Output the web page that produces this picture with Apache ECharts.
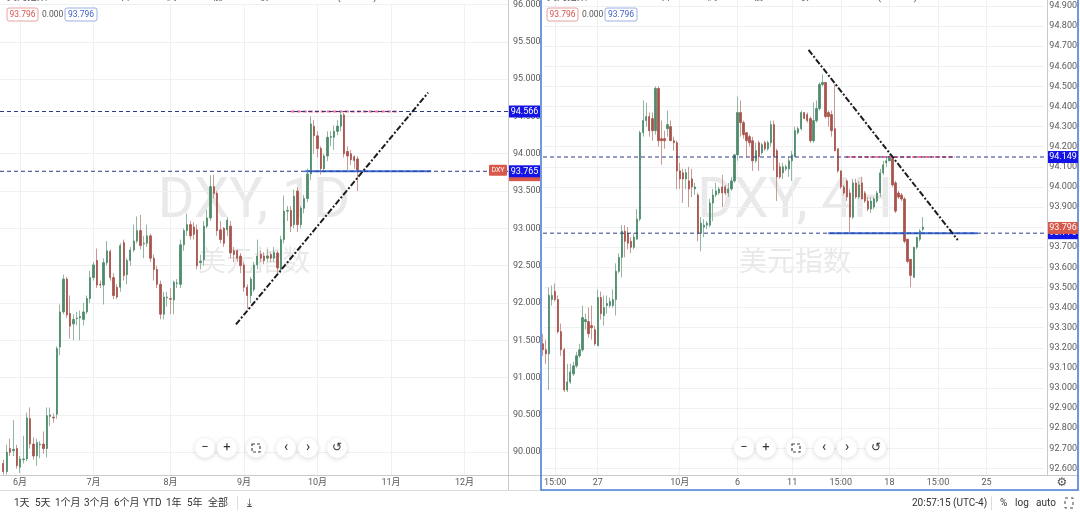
<!DOCTYPE html>
<html><head><meta charset="utf-8">
<script src="https://cdn.jsdelivr.net/npm/echarts/dist/echarts.min.js"></script>
<style>html,body{margin:0;padding:0;background:#fff}#c{width:1080px;height:516px}</style>
</head><body><div id="c"></div>
<script>
// ---------- LEFT PANEL (DXY, 1D) ----------
const leftOpen = [89.85,89.74,90.05,90.02,90.05,89.80,89.90,89.91,90.45,90.11,
89.95,90.10,90.11,90.05,90.48,90.47,90.51,91.41,91.88,92.32,
91.86,91.72,91.79,91.80,91.78,91.88,92.06,92.34,92.57,92.25,
92.24,92.54,92.69,92.34,92.21,92.21,92.81,92.38,92.57,92.71,
92.83,92.97,92.79,92.80,92.90,92.60,92.45,92.25,91.85,92.07,
92.06,92.04,92.26,92.25,92.78,92.97,93.05,93.02,92.98,92.54,
92.58,93.03,93.14,93.56,93.47,92.98,93.00,92.98,93.03,92.70,
92.70,92.63,92.51,92.21,92.10,92.18,92.51,92.65,92.63,92.60,
92.65,92.60,92.67,92.45,92.85,93.23,93.24,93.05,93.50,93.05,
93.27,93.40,93.73,94.37,94.24,94.07,93.80,93.97,94.22,94.22,
94.30,94.37,94.52,94.03,94.00,93.96,93.93];
const leftClose = [89.74,90.00,90.00,90.04,89.82,89.91,89.91,90.46,90.11,89.95,
90.13,90.11,90.05,90.49,90.50,90.46,91.39,91.88,92.32,91.84,
91.69,91.78,91.80,91.82,91.88,92.06,92.34,92.51,92.24,92.24,
92.54,92.70,92.34,92.10,92.08,92.77,92.37,92.57,92.71,92.83,
92.97,92.77,92.80,92.90,92.60,92.45,92.25,91.85,92.08,92.08,
92.05,92.28,92.27,92.78,92.97,93.05,92.90,92.92,92.50,92.56,
93.03,93.14,93.56,93.47,92.97,92.85,92.80,93.11,92.67,92.65,
92.60,92.50,92.21,92.10,92.32,92.51,92.63,92.60,92.57,92.63,
92.60,92.68,92.47,92.85,93.23,93.24,93.03,93.43,93.05,93.27,
93.40,93.73,94.40,94.24,94.07,93.80,93.97,94.22,94.23,94.30,
94.37,94.52,94.00,93.97,93.92,93.91,93.78];
const leftLow = [89.70,89.70,89.95,89.95,89.78,89.72,89.85,89.88,90.05,89.90,
89.82,89.92,89.98,89.93,90.35,90.40,90.45,91.30,91.85,91.80,
91.52,91.50,91.70,91.50,91.70,91.85,92.00,92.30,92.20,92.20,
91.98,92.50,92.30,92.05,92.05,92.15,92.30,92.25,92.50,92.68,
92.80,92.72,92.60,92.75,92.55,92.30,92.20,91.78,91.78,91.95,
91.85,91.85,92.20,92.20,92.70,92.90,92.85,92.85,92.45,92.45,
92.50,93.00,93.10,93.40,92.90,92.80,92.75,92.90,92.60,92.55,
92.55,92.40,92.15,91.92,92.00,92.15,92.45,92.55,92.52,92.55,
92.55,92.55,92.40,92.40,92.80,93.10,92.95,93.00,92.95,93.00,
93.20,93.35,93.65,94.00,93.95,93.72,93.75,93.90,94.10,94.05,
94.25,94.30,93.95,93.78,93.85,93.80,93.50];
const leftHigh = [89.90,90.10,90.18,90.43,90.10,89.95,90.22,90.53,90.60,90.20,
90.18,90.15,90.28,90.60,90.60,90.52,91.42,91.98,92.38,92.35,
92.10,91.85,91.88,91.90,92.00,92.10,92.43,92.55,92.73,92.30,
92.60,92.83,92.72,92.40,92.25,92.80,92.85,92.60,92.75,93.05,
93.16,93.18,92.90,93.05,92.93,92.65,92.50,92.30,92.15,92.15,
92.20,92.30,92.32,92.85,93.00,93.20,93.10,93.08,93.05,92.65,
93.10,93.25,93.71,93.72,93.50,93.10,93.02,93.15,93.10,92.75,
92.72,92.67,92.55,92.25,92.35,92.55,92.85,92.70,92.68,92.72,
92.68,92.75,92.70,92.90,93.44,93.30,93.30,93.52,93.55,93.30,
93.45,93.80,94.50,94.45,94.30,94.10,94.00,94.30,94.30,94.38,
94.45,94.56,94.55,94.10,94.05,93.98,93.97];
const leftSlots = 153;          // bar slots on the daily time axis
const leftFirstSlot = 1;
const leftTickIdx = [6, 28, 51, 73, 95, 117, 139];
const leftTickLabels = ['6月','7月','8月','9月','10月','11月','12月'];
const leftPriceTicks = [90, 90.5, 91, 91.5, 92, 92.5, 93, 93.5, 94, 94.5, 95, 95.5, 96];
const leftPriceRange = [89.695, 96.0];
const leftLevels = [94.566, 93.765];
const leftResistSeg = [[87, 94.566], [119, 94.566]];
const leftSupportSeg = [[91.3, 93.765], [129, 93.765]];
const leftTrend = [[70.6, 91.713], [128.1, 94.819]];

// ---------- RIGHT PANEL (DXY, 4H) ----------
const rightOpen = [93.22,93.19,93.17,93.44,93.48,93.44,93.28,93.19,92.99,93.03,
93.07,93.11,93.16,93.19,93.33,93.33,93.31,93.29,93.21,93.45,
93.36,93.41,93.41,93.41,93.44,93.58,93.65,93.78,93.77,93.73,
93.70,93.74,93.84,94.27,94.33,94.35,94.34,94.28,94.49,94.24,
94.24,94.29,94.30,94.23,94.22,94.08,94.07,94.04,94.03,94.04,
93.99,93.96,93.77,93.80,93.81,93.81,93.92,93.96,93.97,94.00,
94.00,93.97,93.99,94.03,94.16,94.37,94.32,94.27,94.25,94.23,
94.13,94.22,94.17,94.22,94.19,94.22,94.31,94.18,94.10,94.07,
94.09,94.09,94.13,94.15,94.27,94.29,94.37,94.36,94.34,94.23,
94.33,94.39,94.51,94.52,94.37,94.36,94.29,94.19,94.08,94.00,
94.03,93.97,93.85,94.02,93.95,94.02,93.97,93.93,93.89,93.90,
93.93,93.97,94.07,94.12,94.13,94.14,94.02,93.97,93.96,93.94,
93.74,93.64,93.55,93.70,93.74,93.79];
const rightClose = [93.19,93.17,93.46,93.46,93.44,93.28,93.19,92.99,93.03,93.08,
93.11,93.16,93.19,93.35,93.34,93.27,93.30,93.22,93.45,93.37,
93.40,93.42,93.43,93.44,93.58,93.65,93.78,93.73,93.72,93.70,
93.75,93.84,94.27,94.33,94.35,94.28,94.28,94.49,94.23,94.23,
94.23,94.31,94.23,94.22,94.08,94.04,94.04,94.07,93.99,94.00,
94.00,93.77,93.82,93.81,93.82,93.92,93.96,93.98,93.99,93.97,
93.97,93.99,94.03,94.16,94.37,94.32,94.26,94.23,94.22,94.13,
94.18,94.15,94.21,94.19,94.22,94.31,94.15,94.05,94.05,94.10,
94.10,94.13,94.16,94.28,94.29,94.37,94.34,94.33,94.23,94.33,
94.39,94.51,94.52,94.35,94.35,94.28,94.18,94.08,94.00,93.97,
93.95,93.85,94.02,93.95,94.01,93.94,93.93,93.89,93.93,93.94,
93.97,94.07,94.11,94.13,94.15,94.01,93.88,93.95,93.94,93.73,
93.63,93.56,93.70,93.75,93.78,93.80];
const rightLow = [93.16,93.12,92.99,93.41,93.43,93.27,93.16,92.98,92.98,93.02,
93.06,93.10,93.15,93.18,93.29,93.25,93.24,93.21,93.21,93.34,
93.31,93.37,93.40,93.40,93.36,93.57,93.55,93.65,93.69,93.67,
93.69,93.74,93.83,94.25,94.30,94.25,94.23,94.26,94.20,94.11,
94.19,94.25,94.23,94.18,93.99,93.99,93.92,93.99,93.90,93.95,
93.96,93.73,93.68,93.75,93.79,93.80,93.83,93.95,93.96,93.90,
93.96,93.95,93.98,94.02,94.13,94.25,94.24,94.15,94.20,94.08,
94.12,94.08,94.16,94.18,94.18,94.20,94.08,93.93,94.04,94.04,
94.08,94.05,94.03,94.15,94.26,94.28,94.34,94.32,94.22,94.22,
94.32,94.38,94.50,94.34,94.30,94.25,94.18,94.07,93.99,93.96,
93.93,93.77,93.84,93.94,93.94,93.94,93.92,93.88,93.87,93.89,
93.92,93.95,94.06,94.10,94.13,94.00,93.87,93.94,93.93,93.72,
93.62,93.50,93.55,93.69,93.73,93.78];
const rightHigh = [93.27,93.24,93.50,93.51,93.52,93.46,93.32,93.20,93.12,93.12,
93.13,93.18,93.22,93.41,93.37,93.40,93.41,93.31,93.49,93.48,
93.46,93.46,93.45,93.49,93.62,93.67,93.81,93.81,93.80,93.75,
93.77,93.89,94.28,94.43,94.42,94.37,94.37,94.50,94.50,94.33,
94.28,94.38,94.33,94.25,94.23,94.12,94.09,94.09,94.10,94.09,
94.02,93.97,93.85,93.84,93.83,93.94,93.99,94.02,94.00,94.06,
94.01,94.02,94.05,94.16,94.45,94.43,94.33,94.27,94.26,94.25,
94.22,94.23,94.22,94.23,94.23,94.33,94.33,94.19,94.12,94.12,
94.11,94.15,94.18,94.30,94.30,94.38,94.37,94.37,94.35,94.42,
94.43,94.52,94.56,94.52,94.38,94.38,94.51,94.19,94.08,94.01,
94.04,93.99,94.04,94.04,94.03,94.05,93.98,93.95,93.95,93.95,
93.98,94.09,94.13,94.15,94.16,94.15,94.03,93.98,93.97,93.95,
93.74,93.64,93.70,93.75,93.79,93.85];
const rightSlots = 166;
const rightFirstSlot = 0;
const rightTickIdx = [4, 18, 45, 64, 82, 98, 114, 130, 146];
const rightTickLabels = ['15:00','27','10月','6','11','15:00','18','15:00','25'];
const rightPriceTicks = [92.6,92.7,92.8,92.9,93.0,93.1,93.2,93.3,93.4,93.5,93.6,93.7,93.8,93.9,94.0,94.1,94.2,94.3,94.4,94.5,94.6,94.7,94.8,94.9];
const rightPriceRange = [92.567, 94.930];
const rightLevels = [94.149, 93.770];
const rightResistSeg = [[99.8, 94.149], [135.5, 94.149]];
const rightSupportSeg = [[93.9, 93.770], [143, 93.770]];
const rightTrend = [[87.4, 94.682], [136.5, 93.736]];

const lastPrice = 93.796;
const lastChange = '0.000';
const leftTitle = '美元指数 · 1D · FXCM  ●  开93.800  高93.907  低93.683  收93.796  −0.004 (−0.00%)';
const rightTitle = '美元指数 · 4H · FXCM  ●  开93.800  高93.851  低93.782  收93.796  −0.004 (−0.00%)';
const rangeButtons = ['1天','5天','1个月','3个月','6个月','YTD','1年','5年','全部'];

// ---------- build ----------
const FONT = 'Roboto, "Noto Sans CJK SC", sans-serif';
const UP = '#4e8b6c', DOWN = '#a8544c', WUP = '#93b6a3', WDOWN = '#c99a94';
const GRIDC = '#eef0f4', AXC = '#c9c9c9', LBL = '#5a5a5a';
const NAVY = '#2f3a8a', PINK = '#ee6d86', BLUE = '#3a6fd8', TAGBLUE = '#1414e6', TAGRED = '#d9584c';

function mkMap(idx, labels){ const m = {}; idx.forEach((k,j)=>{ m[k] = labels[j]; }); return m; }
const leftMap = mkMap(leftTickIdx, leftTickLabels);
const rightMap = mkMap(rightTickIdx, rightTickLabels);
const cats = n => Array.from({length:n}, (_, i) => String(i));

const wickData = (o,c,l,h,s) => o.map((v,i)=>[i+s, v, c[i], l[i], h[i]]);
const bodyData = (o,c,s) => o.map((v,i)=>[i+s, v, c[i], Math.min(v,c[i]), Math.max(v,c[i])]);

function catAxis(grid, n, map){
  const f = idx => map[idx] !== undefined;
  return {type:'category', gridIndex:grid, data:cats(n), boundaryGap:false,
    axisLine:{show:false}, axisTick:{show:false},
    axisLabel:{interval:f, formatter:(v,idx)=>map[idx]||'', fontSize:9, color:LBL, margin:3, fontFamily:FONT},
    splitLine:{show:true, interval:f, lineStyle:{color:GRIDC, width:1}}};
}
function valAxis(grid, range, ticks){
  return {type:'value', gridIndex:grid, position:'right', min:range[0], max:range[1],
    axisLine:{show:false}, axisTick:{show:false, customValues:ticks},
    axisLabel:{customValues:ticks, formatter:v=>v.toFixed(3), fontSize:9, color:LBL, margin:5, fontFamily:FONT},
    splitLine:{show:true, lineStyle:{color:GRIDC, width:1}}};
}
function candle(xi, yi, data, wick){
  return {type:'candlestick', xAxisIndex:xi, yAxisIndex:yi, data, encode:{x:0, y:[1,2,3,4]},
    barWidth: wick ? 0.5 : 1.8, silent:true, animation:false, z: wick ? 2 : 3,
    itemStyle: wick ? {color:'rgba(0,0,0,0)', color0:'rgba(0,0,0,0)', borderColor:WUP, borderColor0:WDOWN, borderWidth:1}
                    : {color:UP, color0:DOWN, borderColor:UP, borderColor0:DOWN, borderWidth:0.8}};
}
function seg(xi, yi, pts, color, width, type, z){
  return {type:'line', xAxisIndex:xi, yAxisIndex:yi, data:pts, symbol:'none', silent:true, animation:false, z,
    lineStyle:{color, width, type}};
}
const full = (n, v) => [[0, v], [n-1, v]];

const series = [
  candle(0,0, wickData(leftOpen,leftClose,leftLow,leftHigh,leftFirstSlot), true),
  candle(0,0, bodyData(leftOpen,leftClose,leftFirstSlot), false),
  candle(1,1, wickData(rightOpen,rightClose,rightLow,rightHigh,rightFirstSlot), true),
  candle(1,1, bodyData(rightOpen,rightClose,rightFirstSlot), false),
  seg(2,0, leftSupportSeg, BLUE, 2, 'solid', 4),
  seg(2,0, leftResistSeg, PINK, 2, [4,2], 4),
  seg(2,0, full(leftSlots, leftLevels[0]), NAVY, 1, [4,3], 5),
  seg(2,0, full(leftSlots, leftLevels[1]), NAVY, 1, [4,3], 5),
  seg(2,0, leftTrend, '#1c1c1c', 2, [6,2,2,2], 6),
  seg(3,1, rightSupportSeg, BLUE, 2, 'solid', 4),
  seg(3,1, rightResistSeg, PINK, 2, [4,2], 4),
  seg(3,1, full(rightSlots, rightLevels[0]), NAVY, 1, [4,3], 5),
  seg(3,1, full(rightSlots, rightLevels[1]), NAVY, 1, [4,3], 5),
  seg(3,1, rightTrend, '#1c1c1c', 2, [6,2,2,2], 6)
];

const chart = echarts.init(document.getElementById('c'));
chart.setOption({
  animation:false,
  backgroundColor:'#fff',
  textStyle:{fontFamily:FONT},
  grid:[{left:0, top:0, width:508, height:475}, {left:543, top:0, width:504, height:475}],
  xAxis:[catAxis(0,leftSlots,leftMap), catAxis(1,rightSlots,rightMap),
    {type:'value', gridIndex:0, min:0, max:leftSlots-1, show:false},
    {type:'value', gridIndex:1, min:0, max:rightSlots-1, show:false}],
  yAxis:[valAxis(0,leftPriceRange,leftPriceTicks), valAxis(1,rightPriceRange,rightPriceTicks)],
  series
});

// ---------- overlays ----------
const yL = v => chart.convertToPixel({yAxisIndex:0}, v);
const yR = v => chart.convertToPixel({yAxisIndex:1}, v);
const g = [];
function T(x, y, t, o){ o = o || {};
  g.push({type:'text', z:(o.z!==undefined?o.z:50), silent:true, style:{text:t, x, y, fill:o.color||'#333',
    fontSize:o.size||10, fontFamily:o.family||FONT, fontWeight:o.weight||'normal',
    textAlign:o.align||'left', align:o.align||'left', textVerticalAlign:'middle', verticalAlign:'middle'}}); }
function R(x, y, w, h, fill, stroke, lw, o){ o = o || {};
  g.push({type:'rect', z:(o.z!==undefined?o.z:50), silent:true, shape:{x, y, width:w, height:h, r:o.r||0},
    style:{fill:fill, stroke:stroke||null, lineWidth:lw||0, lineDash:o.dash||null, shadowBlur:o.blur||0, shadowColor:o.shadow||null}}); }
function L(x1, y1, x2, y2, stroke, lw){
  g.push({type:'line', z:45, silent:true, shape:{x1, y1, x2, y2}, style:{stroke, lineWidth:lw||1}}); }
function C(cx, cy, r){
  g.push({type:'circle', z:50, silent:true, shape:{cx, cy, r}, style:{fill:'#fff', shadowBlur:5, shadowColor:'rgba(0,0,0,0.16)', shadowOffsetY:1}}); }
function tag(x, w, yc, t, bg, z){ R(x, yc-6, w, 12, bg, null, 0, {z}); T(x+w/2, yc, t, {color:'#fff', size:9, align:'center', z:z+1}); }

// watermarks
T(254, 203, 'DXY, 1D', {size:56, color:'#e9e9e9', align:'center', z:-1});
T(254, 264, '美元指数', {size:28, color:'#e9e9e9', align:'center', z:-1});
T(795, 203, 'DXY, 4H', {size:56, color:'#e9e9e9', align:'center', z:-1});
T(795, 264, '美元指数', {size:28, color:'#e9e9e9', align:'center', z:-1});

// frames
L(508.5, 0, 508.5, 490, AXC);
L(0, 475.5, 541, 475.5, AXC);
L(1047.5, 0, 1047.5, 475, AXC);
L(541, 475.5, 1078, 475.5, AXC);
L(0, 490.5, 1080, 490.5, '#dcdcdc');
g.push({type:'rect', z:46, silent:true, shape:{x:541, y:-3, width:537, height:493}, style:{fill:'none', stroke:'#4d7fd6', lineWidth:1.6}});

// titles + badges
[[7, leftTitle], [547, rightTitle]].forEach(([x, t]) => {
  T(x, -3, t, {size:10, color:'#555'});
  R(x, 8, 31, 13, '#fff', '#e6a2a2', 1, {r:2});
  T(x+15.5, 14.5, lastPrice.toFixed(3), {size:8.5, color:'#d9534f', align:'center'});
  T(x+35, 14.5, lastChange, {size:8.5, color:'#555'});
  R(x+58, 8, 32, 13, '#fff', '#9cb0e6', 1, {r:2});
  T(x+74, 14.5, lastPrice.toFixed(3), {size:8.5, color:'#3f5fc7', align:'center'});
});

// left axis tags
const leftLast = leftClose[leftClose.length-1];
tag(509, 31, yL(leftLast)+5, leftLast.toFixed(3), TAGRED, 60);
tag(509, 31, yL(leftLevels[0]), leftLevels[0].toFixed(3), TAGBLUE, 62);
tag(509, 31, yL(leftLevels[1]), leftLevels[1].toFixed(3), TAGBLUE, 62);
R(489, yL(leftLast)-5.5, 18, 11, TAGRED, null, 0, {z:60, r:1});
T(498, yL(leftLast), 'DXY', {size:7, color:'#fff', align:'center', z:61});
// right axis tags
tag(1048, 30, yR(rightLevels[0]), rightLevels[0].toFixed(3), TAGBLUE, 60);
tag(1048, 30, yR(rightLevels[1]), rightLevels[1].toFixed(3), TAGBLUE, 60);
tag(1048, 30, yR(lastPrice), lastPrice.toFixed(3), TAGRED, 62);

// navigation buttons
[[205,227,256,286,308,337],[744,766,796,824,847,876]].forEach(xs => {
  xs.forEach(x => C(x, 448, 10));
  T(xs[0], 448, '−', {size:13, color:'#333', align:'center', z:51});
  T(xs[1], 448, '+', {size:13, color:'#333', align:'center', z:51});
  R(xs[2]-4, 444, 8, 8, 'none', '#444', 1.2, {z:51, dash:[3,2]});
  T(xs[3], 447, '‹', {size:14, color:'#333', align:'center', z:51});
  T(xs[4], 447, '›', {size:14, color:'#333', align:'center', z:51});
  T(xs[5], 448, '↺', {size:12, color:'#333', align:'center', z:51});
});

// gear + toolbar
T(1062, 483, '⚙', {size:12, color:'#555', align:'center', family:'DejaVu Sans'});
const rbX = [14, 35, 55, 84, 114, 143, 166, 187, 208];
rangeButtons.forEach((t, i) => T(rbX[i], 503, t, {size:10, color:'#333'}));
L(237.5, 496, 237.5, 510, '#dcdcdc');
T(247, 503, '⤓', {size:11, color:'#444', family:'DejaVu Sans'});
T(912, 503, '20:57:15 (UTC-4)', {size:10, color:'#333'});
L(991.5, 496, 991.5, 510, '#dcdcdc');
T(1000, 503, '%', {size:10, color:'#333'});
T(1015, 503, 'log', {size:10, color:'#333'});
T(1036, 503, 'auto', {size:10, color:'#333'});
R(1065, 498, 8, 10, 'none', '#444', 1, {dash:[3,3]});

chart.setOption({graphic:{elements:g}});
</script>
</body></html>
